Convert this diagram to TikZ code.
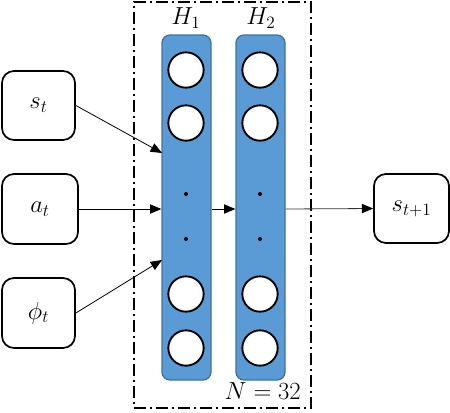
\RequirePackage{fix-cm}
\documentclass[tikz,border=0pt]{standalone}
\usetikzlibrary{arrows.meta}
\definecolor{colfill}{HTML}{5B9BD5}
\definecolor{coledge}{HTML}{41719C}
\begin{document}
\begin{tikzpicture}[x=0.75pt,y=-0.75pt,
  font=\fontsize{18.5}{21}\selectfont,
  inbox/.style={draw=black,line width=1.3pt,rounded corners=9pt,fill=white,inner sep=0pt},
  layer/.style={draw=coledge,line width=1pt,fill=colfill,rounded corners=6pt,minimum width=36.75pt,minimum height=258.75pt,inner sep=0pt},
  neuron/.style={circle,draw=black,line width=1.4pt,fill=white,minimum size=26.5pt,inner sep=0pt},
  tdot/.style={circle,fill=black,minimum size=3pt,inner sep=0pt},
  conn/.style={line width=0.6pt,-{Triangle[length=8.5pt,width=7pt,fill=black,color=black]}},
  frame/.style={line width=1.5pt,dash pattern=on 9pt off 3pt on 1.5pt off 3pt}
]
\useasboundingbox (0,0) rectangle (450,412);
% outer dash-dot frame
\node[frame,draw,minimum width=132.75pt,minimum height=304.5pt,inner sep=0pt] (frm) at (222,205) {};
% layers
\node[layer] (H1) at (186.5,207.5) {};
\node[layer] (H2) at (260.5,207.5) {};
\node (L1) at (186,18) {$H_1$};
\node (L2) at (261,18) {$H_2$};
% neurons
\foreach \c/\x in {1/186,2/260}{
  \node[neuron] (n\c a) at (\x,70) {};
  \node[neuron] (n\c b) at (\x,123) {};
  \node[neuron] (n\c c) at (\x,294) {};
  \node[neuron] (n\c d) at (\x,348) {};
  \node[tdot] (d\c a) at (\x,194) {};
  \node[tdot] (d\c b) at (\x,239) {};
}
% input boxes
\node[inbox,minimum width=54.75pt,minimum height=51.75pt] (st) at (38.5,105.5) {$s_t$};
\node[inbox,minimum width=57pt,minimum height=52.5pt] (at) at (40,209) {$a_t$};
\node[inbox,minimum width=54.75pt,minimum height=52.5pt] (ph) at (38.5,313) {$\phi_t$};
\node[inbox,minimum width=56.25pt,minimum height=51.75pt] (out) at (411.5,208.5) {$s_{t+1}$};
% label
\node[anchor=base east,inner sep=0pt] (N) at (301,399) {$N=32$};
% connector endpoints
\coordinate (i1) at (162,153);
\coordinate (i3) at (162,260);
\draw[conn] (st.east) -- (i1);
\draw[conn] (at.east) -- (at.east -| H1.west);
\draw[conn] (ph.east) -- (i3);
\draw[conn] (H1.east |- at.east) -- (H2.west |- at.east);
\draw[conn,draw=black!80] (H2.east |- at.east) -- (out.west);
\end{tikzpicture}
\end{document}
